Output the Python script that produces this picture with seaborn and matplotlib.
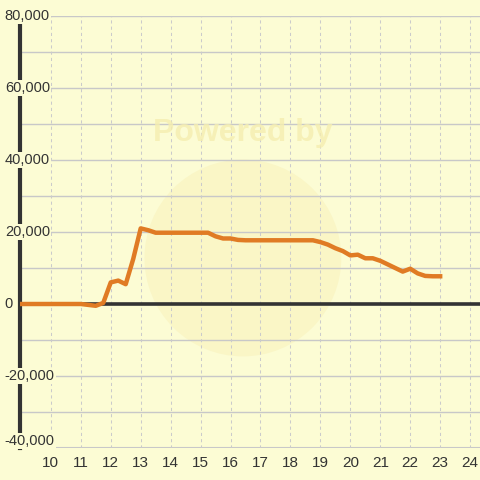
import matplotlib
matplotlib.use('Agg')
import matplotlib.pyplot as plt
from matplotlib.patches import Circle
import seaborn as sns

hours = [9, 11, 11.5, 11.75, 12, 12.25, 12.5, 12.75, 13, 13.25, 13.5, 15.25, 15.5, 15.75,
         16, 16.25, 16.5, 17.75, 18.75, 19, 19.25, 19.5, 19.75, 20, 20.25, 20.5, 20.75,
         21, 21.25, 21.5, 21.75, 22, 22.25, 22.5, 22.75, 23]
values = [0, 0, -500, 300, 6000, 6500, 5500, 12500, 21000, 20500, 19800, 19800, 18800, 18200,
          18200, 17800, 17700, 17700, 17700, 17200, 16500, 15500, 14700, 13500, 13700, 12700, 12700,
          12000, 11000, 10000, 9000, 9800, 8500, 7800, 7700, 7700]

y_ticks = [-40000, -20000, 0, 20000, 40000, 60000, 80000]
x_ticks = list(range(10, 25))

bg = '#fcfcd4'
plt.rcParams['font.family'] = ['Liberation Sans', 'DejaVu Sans']

fig = plt.figure(figsize=(4.8, 4.8), dpi=100, facecolor=bg)
ax = fig.add_axes([20 / 480, 32 / 480, 460 / 480, 432 / 480])
ax.set_facecolor(bg)

# faint watermark
ax.add_patch(Circle((0.506, 0.4625), 0.205, transform=fig.transFigure,
                    facecolor='#faf6c6', edgecolor='none', zorder=0))
fig.text(0.506, 0.722, 'Powered by', ha='center', va='center', fontsize=23,
         fontweight='bold', color='#f5eeb0', alpha=0.8, zorder=0)

sns.lineplot(x=hours, y=values, ax=ax, color='#e07b24', linewidth=3.2, zorder=5)

ax.set_xlim(8.97, 24.33)
ax.set_ylim(-40000, 80000)

for yv in range(-30000, 80001, 10000):
    ax.axhline(yv, color='#c8c8c8', linewidth=1, zorder=1)
ax.axhline(-40000, color='#c8c8c8', linewidth=1.5, zorder=1)
for xv in x_ticks:
    ax.axvline(xv, color='#cbcbcb', linewidth=0.75, linestyle=(0, (3, 3)), zorder=1)
ax.axhline(0, color='#333333', linewidth=2.6, zorder=3)

for s in ['top', 'right', 'bottom']:
    ax.spines[s].set_visible(False)
ax.spines['left'].set_color('#333333')
ax.spines['left'].set_linewidth(3)
ax.spines['left'].set_zorder(4)

ax.set_yticks([])
ax.set_xticks(x_ticks)
ax.set_xticklabels([str(v) for v in x_ticks], fontsize=11, color='#333333')
ax.tick_params(axis='x', length=0, pad=6)

trans = ax.get_yaxis_transform()
for yv in y_ticks:
    ax.text(-0.033, yv, f'{yv:,}', transform=trans, ha='left',
            va='bottom' if yv == -40000 else 'center', fontsize=10.5, color='#333333',
            bbox=dict(facecolor=bg, edgecolor='none', pad=0.5), zorder=10, clip_on=False)

ax.set_xlabel('')
ax.set_ylabel('')
fig.savefig('out.png', dpi=100, facecolor=bg)
